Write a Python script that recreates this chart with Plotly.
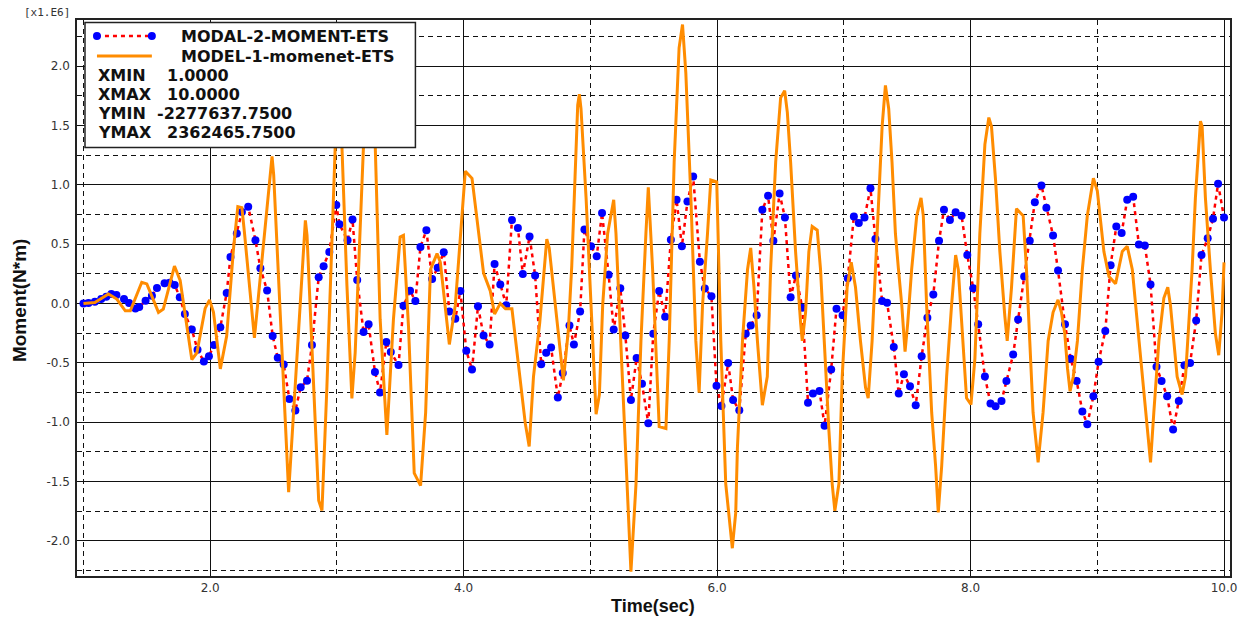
import plotly.graph_objects as go

# ---------------- data (moment values in units of 1.E6 N*m) ----------------
blue_t = [1.00, 1.04, 1.09, 1.14, 1.18, 1.22, 1.26, 1.32, 1.36, 1.41, 1.44, 1.49, 1.54, 1.58, 1.64, 1.68,
          1.72, 1.76, 1.80, 1.855, 1.90, 1.95, 1.99, 2.03, 2.08, 2.13, 2.16, 2.21, 2.25, 2.30,
          2.357, 2.396, 2.449, 2.493, 2.533, 2.58, 2.625, 2.672, 2.714, 2.764, 2.803, 2.856, 2.895, 2.94,
          2.995, 3.02, 3.084, 3.123, 3.16, 3.21, 3.25, 3.30, 3.34, 3.39, 3.425, 3.486, 3.525, 3.577,
          3.619, 3.659, 3.706, 3.751, 3.795, 3.843, 3.887, 3.934, 3.974, 4.021, 4.066, 4.113, 4.157,
          4.205, 4.244, 4.289, 4.336, 4.381, 4.428, 4.467, 4.52, 4.564, 4.612, 4.651, 4.69, 4.743,
          4.782, 4.835, 4.87, 4.919, 4.953, 5.005, 5.05, 5.092, 5.144, 5.184, 5.236, 5.276, 5.32,
          5.365, 5.407, 5.457, 5.496, 5.543, 5.59, 5.635, 5.68, 5.722, 5.766, 5.811, 5.864, 5.903,
          5.955, 5.995, 6.034, 6.087, 6.126, 6.175, 6.226, 6.265, 6.312, 6.357, 6.402, 6.444, 6.493,
          6.535, 6.58, 6.622, 6.672, 6.717, 6.756, 6.808, 6.848, 6.90, 6.942, 6.99, 7.031, 7.079,
          7.118, 7.163, 7.21, 7.249, 7.302, 7.341, 7.394, 7.433, 7.474, 7.522, 7.567, 7.614, 7.659,
          7.706, 7.751, 7.79, 7.837, 7.882, 7.929, 7.974, 8.021, 8.06, 8.113, 8.157, 8.197, 8.244,
          8.283, 8.336, 8.375, 8.423, 8.467, 8.507, 8.559, 8.598, 8.651, 8.69, 8.745, 8.79, 8.837,
          8.882, 8.921, 8.969, 9.01, 9.063, 9.105, 9.15, 9.192, 9.236, 9.283, 9.328, 9.375, 9.42,
          9.467, 9.507, 9.551, 9.598, 9.643, 9.688, 9.732, 9.78, 9.822, 9.871, 9.913, 9.953, 10.0]
blue_v = [0.000, 0.003, 0.014, 0.037, 0.057, 0.080, 0.070, 0.037, 0.003, -0.042, -0.030, 0.023, 0.065,
          0.130, 0.170, 0.175, 0.156, 0.051, -0.090, -0.220, -0.390, -0.490, -0.445, -0.350, -0.200,
          0.088, 0.390, 0.590, 0.770, 0.815,
          0.532, 0.297, 0.108, -0.274, -0.458, -0.515, -0.806, -0.902, -0.707, -0.651, -0.351, 0.221,
          0.314, 0.433, 0.829, 0.667, 0.532, 0.707, 0.198, -0.240, -0.175, -0.577, -0.750, -0.325,
          -0.410, -0.520, -0.020, 0.107,
          0.021, 0.476, 0.617, 0.205, 0.301, 0.431, -0.069, -0.130, 0.105, -0.400, -0.557, -0.024,
          -0.271, -0.346, 0.331, 0.160, -0.015, 0.702, 0.636, 0.247, 0.563, 0.235, -0.512, -0.416,
          -0.372, -0.792, -0.587, -0.187, -0.346, -0.069, 0.623, 0.482, 0.398, 0.762, 0.241, -0.220,
          0.127, -0.270, -0.813, -0.461, -0.678, -1.009, -0.256, 0.105, -0.112, 0.536, 0.873, 0.482,
          0.858, 1.069, 0.352, 0.126, 0.060, -0.693, -0.864, -0.503, -0.813, -0.900, -0.256, -0.187,
          -0.100, 0.789, 0.907, 0.527, 0.925, 0.723, 0.051, 0.235, -0.036, -0.837, -0.759, -0.738,
          -1.030, -0.557, -0.045, -0.100, 0.211, 0.732, 0.678, 0.723, 0.970, 0.542, 0.021, 0.006,
          -0.367, -0.759, -0.596, -0.699, -0.858, -0.446, -0.120, 0.075, 0.527, 0.789, 0.703, 0.768,
          0.738, 0.407, 0.127, -0.175, -0.617, -0.843, -0.867, -0.822, -0.654, -0.431, -0.136, 0.226,
          0.527, 0.852, 0.994, 0.807, 0.572, 0.277, -0.175, -0.467, -0.654, -0.910, -1.018, -0.783,
          -0.491, -0.232, 0.322, 0.648, 0.593, 0.873, 0.898, 0.497, 0.488, 0.160, -0.533, -0.654,
          -0.783, -1.063, -0.822, -0.521, -0.503, -0.145, 0.407, 0.548, 0.714, 1.009, 0.723]

orange_t = [1.00, 1.09, 1.197, 1.263, 1.33, 1.37, 1.46, 1.50, 1.592, 1.63, 1.718, 1.763, 1.80, 1.855,
            1.895, 1.96, 1.995, 2.026, 2.08, 2.13, 2.184, 2.218, 2.25, 2.27, 2.349, 2.488, 2.501,
            2.606, 2.619, 2.633, 2.751, 2.764, 2.856, 2.882, 2.921, 2.987, 3.01, 3.039, 3.079, 3.118,
            3.144, 3.21, 3.25, 3.302, 3.341, 3.394, 3.446, 3.499, 3.525, 3.565, 3.61, 3.66, 3.70,
            3.738, 3.79, 3.816, 3.855, 3.887, 3.934, 3.974, 4.013, 4.066, 4.105, 4.157, 4.21, 4.244,
            4.289, 4.33, 4.381, 4.446, 4.486, 4.517, 4.551, 4.60, 4.656, 4.675, 4.71, 4.748, 4.787,
            4.826, 4.853, 4.879, 4.90, 4.913, 4.926, 4.966, 5.018, 5.045, 5.071, 5.097, 5.136, 5.184,
            5.202, 5.241, 5.281, 5.32, 5.36, 5.399, 5.438, 5.457, 5.491, 5.543, 5.596, 5.622, 5.661,
            5.70, 5.727, 5.753, 5.793, 5.832, 5.858, 5.885, 5.924, 5.95, 5.997, 6.029, 6.068, 6.12,
            6.147, 6.16, 6.20, 6.24, 6.265, 6.291, 6.318, 6.357, 6.396, 6.422, 6.462, 6.501, 6.533,
            6.554, 6.58, 6.619, 6.659, 6.672, 6.698, 6.724, 6.75, 6.79, 6.816, 6.843, 6.882, 6.908,
            6.929, 6.961, 6.987, 7.026, 7.058, 7.092, 7.131, 7.171, 7.192, 7.223, 7.262, 7.302, 7.328,
            7.354, 7.38, 7.407, 7.43, 7.457, 7.483, 7.504, 7.535, 7.575, 7.609, 7.627, 7.653, 7.693,
            7.724, 7.745, 7.772, 7.811, 7.85, 7.882, 7.903, 7.942, 7.968, 8.003, 8.034, 8.073, 8.113,
            8.144, 8.165, 8.197, 8.231, 8.27, 8.289, 8.323, 8.362, 8.415, 8.441, 8.467, 8.493, 8.533,
            8.572, 8.612, 8.651, 8.69, 8.717, 8.743, 8.765, 8.785, 8.81, 8.843, 8.882, 8.921, 8.969,
            9.0, 9.026, 9.052, 9.092, 9.144, 9.197, 9.236, 9.276, 9.315, 9.354, 9.394, 9.42, 9.446,
            9.486, 9.525, 9.556, 9.577, 9.604, 9.63, 9.669, 9.696, 9.722, 9.748, 9.774, 9.814, 9.827,
            9.853, 9.892, 9.932, 9.958, 9.984, 10.0]
orange_v = [0.000, 0.008, 0.080, 0.037, -0.062, -0.062, 0.178, 0.164, -0.076, -0.048, 0.315, 0.193,
            -0.076, -0.473, -0.416, -0.042, 0.030, -0.076, -0.552, -0.275, 0.462, 0.816, 0.807, 0.600,
            -0.290, 1.239, 1.083, -1.378, -1.590, -1.350, 0.700, 0.574, -1.660, -1.745, -0.700, 1.338,
            1.600, 1.338, 0.150, -0.800, -0.416, 1.338, 2.000, 1.338, -0.133, -1.109, -0.133, 0.560,
            0.574, -0.200, -1.430, -1.536, -0.920, 0.286, 0.420, 0.346, -0.015, -0.346, -0.015, 0.587,
            1.114, 1.054, 0.708, 0.256, 0.105, -0.090, 0.000, -0.045, -0.045, -0.617, -1.009, -1.205,
            -0.617, -0.166, 0.542, 0.467, 0.105, -0.256, -0.648, -0.226, 0.316, 1.066, 1.670, 1.762,
            1.640, 0.889, -0.316, -0.934, -0.768, -0.015, 0.587, 0.873, 0.587, -0.316, -1.370, -2.260,
            -1.520, -0.316, 0.587, 0.979, 0.286, -1.039, -1.054, -0.316, 1.190, 2.154, 2.350, 1.943,
            0.889, -0.316, -0.753, -0.015, 0.587, 1.040, 1.024, -0.316, -1.520, -2.063, -1.762, -1.220,
            -0.316, 0.286, 0.467, 0.136, -0.316, -0.858, -0.617, 0.286, 1.190, 1.732, 1.792, 1.610,
            1.190, 0.437, -0.166, -0.316, -0.075, 0.437, 0.648, 0.617, 0.286, -0.316, -1.070, -1.520,
            -1.747, -1.520, -0.617, 0.136, 0.346, 0.136, -0.316, -0.708, -0.798, -0.316, 0.587, 1.490,
            1.837, 1.640, 1.190, 0.587, 0.300, -0.015, -0.407, -0.166, 0.286, 0.738, 0.889, 0.738,
            -0.015, -0.919, -1.370, -1.762, -1.370, -0.617, -0.015, 0.407, 0.286, -0.316, -0.798,
            -0.852, -0.467, 0.587, 1.340, 1.566, 1.490, 1.040, 0.437, -0.105, -0.316, 0.136, 0.798,
            0.738, 0.286, -0.316, -0.919, -1.340, -0.919, -0.316, -0.075, 0.030, -0.075, -0.250,
            -0.550, -0.740, -0.620, -0.316, 0.286, 0.738, 1.054, 0.949, 0.708, 0.437, 0.226, 0.166,
            0.437, 0.482, 0.286, -0.166, -0.617, -1.070, -1.340, -0.919, -0.316, 0.045, 0.136, -0.015,
            -0.316, -0.617, -0.768, -0.617, -0.166, 0.286, 0.889, 1.536, 1.490, 0.889, 0.286, -0.256,
            -0.437, -0.075, 0.346]

series_names = ["MODAL-2-MOMENT-ETS", "MODEL-1-momenet-ETS"]
stat_labels = ["XMIN", "XMAX", "YMIN", "YMAX"]
stat_values = ["1.0000", "10.0000", "-2277637.7500", "2362465.7500"]

x_major = [2, 4, 6, 8, 10]
x_major_text = ["2.0", "4.0", "6.0", "8.0", "10.0"]
x_minor = [1, 3, 5, 7, 9]
y_major = [-2.0, -1.5, -1.0, -0.5, 0.0, 0.5, 1.0, 1.5, 2.0]
y_major_text = ["-2.0", "-1.5", "-1.0", "-0.5", "0.0", "0.5", "1.0", "1.5", "2.0"]
y_minor = [-2.25, -1.75, -1.25, -0.75, -0.25, 0.25, 0.75, 1.25, 1.75, 2.25]

# ---------------- layout helpers (pixel -> paper) ----------------
W, H = 1249, 620
PL, PR, PT, PB = 77, 1232, 20, 576


def px(x):
    return (x - PL) / (PR - PL)


def py(y):
    return (PB - y) / (PB - PT)


BLUE = "rgb(0,0,255)"
RED = "rgb(255,0,0)"
ORANGE = "rgb(255,140,0)"

fig = go.Figure()
fig.add_trace(go.Scatter(
    x=blue_t, y=blue_v, mode="lines+markers", name=series_names[0],
    line=dict(color=RED, width=2.5, dash="4px,4px"),
    marker=dict(color=BLUE, size=8, line=dict(width=0)),
    showlegend=False, cliponaxis=True))
fig.add_trace(go.Scatter(
    x=orange_t, y=orange_v, mode="lines", name=series_names[1],
    line=dict(color=ORANGE, width=3),
    showlegend=False))

grid_dash = "5px,4px"
fig.update_xaxes(
    range=[0.949, 10.047], tickmode="array", tickvals=x_major, ticktext=x_major_text,
    showgrid=True, gridcolor="#111", gridwidth=1, zeroline=False,
    minor=dict(tickmode="array", tickvals=x_minor, showgrid=True, gridcolor="#111",
               gridwidth=1, griddash=grid_dash),
    showline=True, linecolor="#222", linewidth=1.5, mirror=True, ticks="",
    tickfont=dict(family="DejaVu Sans", size=12, color="#333"))
fig.update_yaxes(
    range=[-2.297, 2.388], tickmode="array", tickvals=y_major, ticktext=y_major_text,
    showgrid=True, gridcolor="#111", gridwidth=1, zeroline=False,
    minor=dict(tickmode="array", tickvals=y_minor, showgrid=True, gridcolor="#111",
               gridwidth=1, griddash=grid_dash),
    showline=True, linecolor="#222", linewidth=1.5, mirror=True, ticks="",
    ticklabelstandoff=3,
    tickfont=dict(family="DejaVu Sans", size=12, color="#333"))

shapes = []
annotations = []

# legend box
shapes.append(dict(type="rect", xref="paper", yref="paper", layer="above",
                   x0=px(85), x1=px(416), y0=py(147.5), y1=py(22.5),
                   fillcolor="white", line=dict(color="#222", width=1.5)))
# legend samples
shapes.append(dict(type="line", xref="paper", yref="paper", layer="above",
                   x0=px(97), x1=px(152), y0=py(36), y1=py(36),
                   line=dict(color=RED, width=2.5, dash="4px,4px")))
for cx in (97, 152):
    shapes.append(dict(type="circle", xref="paper", yref="paper", layer="above",
                       x0=px(cx - 4), x1=px(cx + 4), y0=py(36 + 4), y1=py(36 - 4),
                       fillcolor=BLUE, line=dict(width=0)))
shapes.append(dict(type="line", xref="paper", yref="paper", layer="above",
                   x0=px(97), x1=px(152), y0=py(56), y1=py(56),
                   line=dict(color=ORANGE, width=3)))

leg_font = dict(family="DejaVu Sans", size=16, color="#111", weight="bold")
for name, yy in zip(series_names, (36, 56)):
    annotations.append(dict(text=name, xref="paper", yref="paper", x=px(179), y=py(yy),
                            xanchor="left", yanchor="middle", showarrow=False, font=leg_font))
for i, (lab, val) in enumerate(zip(stat_labels, stat_values)):
    yy = 75 + i * 19.2
    annotations.append(dict(text=lab, xref="paper", yref="paper", x=px(96), y=py(yy),
                            xanchor="left", yanchor="middle", showarrow=False, font=leg_font))
    xv = 155 if val.startswith("-") else 165
    annotations.append(dict(text=val, xref="paper", yref="paper", x=px(xv), y=py(yy),
                            xanchor="left", yanchor="middle", showarrow=False, font=leg_font))

# multiplier label
annotations.append(dict(text="[x1.E6]", xref="paper", yref="paper", x=px(22), y=py(12),
                        xanchor="left", yanchor="middle", showarrow=False,
                        font=dict(family="DejaVu Sans Mono", size=11, color="#333")))
# axis titles
annotations.append(dict(text="Time(sec)", xref="paper", yref="paper", x=px(654), y=py(606),
                        xanchor="center", yanchor="middle", showarrow=False,
                        font=dict(family="Liberation Sans", size=18, color="#111", weight="bold")))
annotations.append(dict(text="Moment(N*m)", xref="paper", yref="paper", x=px(19), y=py(300),
                        xanchor="center", yanchor="middle", showarrow=False, textangle=-90,
                        font=dict(family="Liberation Sans", size=19, color="#111", weight="bold")))

fig.update_layout(
    width=W, height=H,
    margin=dict(l=PL, r=W - PR, t=PT, b=H - PB),
    paper_bgcolor="white", plot_bgcolor="white",
    shapes=shapes, annotations=annotations,
    showlegend=False)

fig.write_html("out.html", include_plotlyjs=True, full_html=True,
               config={"displayModeBar": False})
